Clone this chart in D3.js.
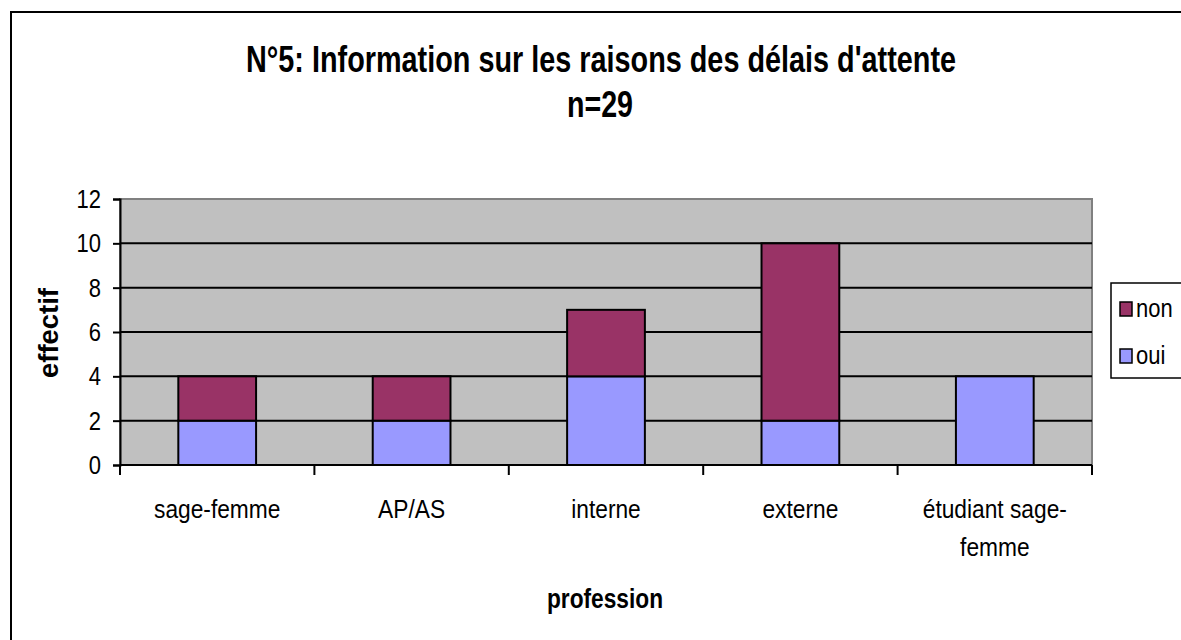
<!DOCTYPE html>
<html>
<head>
<meta charset="utf-8">
<script src="https://cdn.jsdelivr.net/npm/d3@7"></script>
<style>
  body { margin: 0; background: #fff; }
  text { font-family: "Liberation Sans", Arial, sans-serif; fill: #000; }
</style>
</head>
<body>
<script>
var width = 1181,
    height = 640;

// données
var categories = ['sage-femme', 'AP/AS', 'interne', 'externe', 'étudiant sage-femme'];
var labelLines = [['sage-femme'], ['AP/AS'], ['interne'], ['externe'], ['étudiant sage-', 'femme']];
var oui = [2, 2, 4, 2, 4];
var non = [2, 2, 3, 8, 0];
var yTicks = [0, 2, 4, 6, 8, 10, 12];
var seriesNames = ['oui', 'non'];
var colors = { oui: '#9999FF', non: '#993366' };

var plot = { left: 120, right: 1092, top: 199, bottom: 465 };

var svg = d3.select('body').append('svg').attr('width', width).attr('height', height);

// texte un peu condensé (la police d'origine est étroite)
function condText(parent, x, y, str, size, anchor, sx) {
    return parent.append('g')
        .attr('transform', 'translate(' + x + ',' + y + ') scale(' + sx + ',1)')
        .append('text')
        .attr('text-anchor', anchor)
        .style('font-size', size + 'px')
        .text(str);
}

// cadre extérieur
svg.append('rect')
    .attr('x', 11).attr('y', 12)
    .attr('width', width).attr('height', height)
    .attr('fill', '#fff').attr('stroke', '#000').attr('stroke-width', 2);

// titre
svg.append('text')
    .attr('x', 601).attr('y', 72)
    .attr('text-anchor', 'middle')
    .style('font-weight', 'bold').style('font-size', '36px')
    .attr('textLength', 710).attr('lengthAdjust', 'spacingAndGlyphs')
    .text("N°5: Information sur les raisons des délais d'attente");
svg.append('text')
    .attr('x', 600).attr('y', 117)
    .attr('text-anchor', 'middle')
    .style('font-weight', 'bold').style('font-size', '36px')
    .attr('textLength', 66).attr('lengthAdjust', 'spacingAndGlyphs')
    .text('n=29');

var x = d3.scaleBand()
    .domain(categories)
    .range([plot.left, plot.right])
    .paddingInner(0.6)
    .paddingOuter(0.3);

var y = d3.scaleLinear()
    .domain([0, 12])
    .range([plot.bottom, plot.top]);

// fond
svg.append('rect')
    .attr('x', plot.left).attr('y', plot.top)
    .attr('width', plot.right - plot.left).attr('height', plot.bottom - plot.top)
    .attr('fill', '#C0C0C0').attr('stroke', '#808080').attr('stroke-width', 2);

// grille
svg.selectAll('.grid')
    .data(yTicks.filter(function (d) { return d > 0 && d < 12; }))
    .enter().append('line')
    .attr('x1', plot.left).attr('x2', plot.right)
    .attr('y1', function (d) { return y(d); })
    .attr('y2', function (d) { return y(d); })
    .attr('stroke', '#000').attr('stroke-width', 2);

// barres empilées
var rows = categories.map(function (c, i) {
    return { cat: c, oui: oui[i], non: non[i] };
});
var stacked = d3.stack().keys(seriesNames)(rows);

svg.selectAll('.serie')
    .data(stacked)
    .enter().append('g')
    .attr('fill', function (d) { return colors[d.key]; })
    .selectAll('rect')
    .data(function (d) { return d.filter(function (p) { return p[1] > p[0]; }); })
    .enter().append('rect')
    .attr('x', function (d) { return x(d.data.cat); })
    .attr('width', x.bandwidth())
    .attr('y', function (d) { return y(d[1]); })
    .attr('height', function (d) { return y(d[0]) - y(d[1]); })
    .attr('stroke', '#000').attr('stroke-width', 2);

// axe Y
var yAxis = d3.axisLeft(y).tickValues(yTicks).tickSize(7).tickFormat('');
var gy = svg.append('g')
    .attr('transform', 'translate(' + plot.left + ',0)')
    .call(yAxis);
gy.select('.domain').attr('stroke', '#000').attr('stroke-width', 2);
gy.selectAll('.tick line').attr('stroke', '#000').attr('stroke-width', 2);
yTicks.forEach(function (v) {
    condText(svg, 101, y(v) + 9, v, 25, 'end', 0.88);
});

// axe X
var step = x.step();
var boundaries = d3.range(categories.length + 1).map(function (i) {
    return x(categories[0]) - x.paddingOuter() * step + i * step;
});
svg.append('line')
    .attr('x1', plot.left).attr('x2', plot.right)
    .attr('y1', plot.bottom).attr('y2', plot.bottom)
    .attr('stroke', '#000').attr('stroke-width', 2);
svg.selectAll('.xtick')
    .data(boundaries)
    .enter().append('line')
    .attr('x1', function (d) { return d; })
    .attr('x2', function (d) { return d; })
    .attr('y1', plot.bottom).attr('y2', plot.bottom + 10)
    .attr('stroke', '#000').attr('stroke-width', 2);

categories.forEach(function (c, i) {
    labelLines[i].forEach(function (line, k) {
        condText(svg, x(c) + x.bandwidth() / 2, 518 + k * 38, line, 25, 'middle', 0.91);
    });
});

// titres des axes
svg.append('text')
    .attr('x', 605).attr('y', 608)
    .attr('text-anchor', 'middle')
    .style('font-weight', 'bold').style('font-size', '27px')
    .attr('textLength', 116).attr('lengthAdjust', 'spacingAndGlyphs')
    .text('profession');
svg.append('text')
    .attr('transform', 'translate(58,333) rotate(-90)')
    .attr('text-anchor', 'middle')
    .style('font-weight', 'bold').style('font-size', '28px')
    .attr('textLength', 90).attr('lengthAdjust', 'spacingAndGlyphs')
    .text('effectif');

// légende
svg.append('rect')
    .attr('x', 1111).attr('y', 283)
    .attr('width', 120).attr('height', 95)
    .attr('fill', '#fff').attr('stroke', '#000').attr('stroke-width', 1.5);
var legendItems = ['non', 'oui'];
legendItems.forEach(function (d, i) {
    var yy = 302 + i * 47;
    svg.append('rect')
        .attr('x', 1120).attr('y', yy)
        .attr('width', 12).attr('height', 14)
        .attr('fill', colors[d])
        .attr('stroke', '#000').attr('stroke-width', 1.5);
    condText(svg, 1136, yy + 15, d, 25, 'start', 0.88);
});
</script>
</body>
</html>
